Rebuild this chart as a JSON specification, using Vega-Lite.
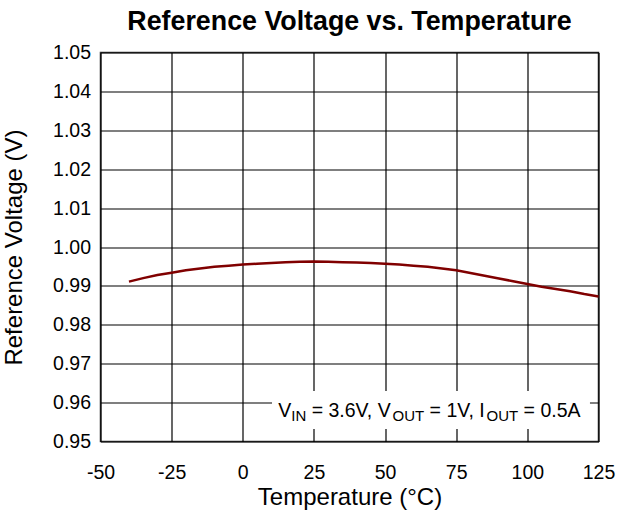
{
  "$schema": "https://vega.github.io/schema/vega-lite/v6.json",
  "width": 498,
  "height": 389,
  "autosize": "none",
  "padding": {"left": 100.5, "top": 52.5, "right": 27.5, "bottom": 77.5},
  "background": "white",
  "title": {
    "text": "Reference Voltage vs. Temperature",
    "font": "Liberation Sans",
    "fontSize": 26.8,
    "fontWeight": "bold",
    "color": "#000000",
    "anchor": "middle",
    "baseline": "alphabetic",
    "offset": 22,
    "dy": 36
  },
  "config": {
    "view": {"stroke": "#333333", "strokeWidth": 1.5},
    "axis": {
      "grid": true,
      "gridColor": "#000000",
      "gridWidth": 1.2,
      "gridOpacity": 1,
      "ticks": false,
      "tickSize": 0,
      "domain": false,
      "labelOverlap": false,
      "labelFont": "Liberation Sans",
      "labelFontSize": 19.5,
      "labelColor": "#000000",
      "titleFont": "Liberation Sans",
      "titleFontSize": 24,
      "titleFontWeight": "normal",
      "titleColor": "#000000"
    }
  },
  "layer": [
    {
      "data": {
        "values": [
          {"t": -40, "v": 0.9911}, {"t": -35, "v": 0.9920}, {"t": -30, "v": 0.9928},
          {"t": -25, "v": 0.9934}, {"t": -20, "v": 0.9940}, {"t": -15, "v": 0.9945},
          {"t": -10, "v": 0.9949}, {"t": -5, "v": 0.9952}, {"t": 0, "v": 0.9955},
          {"t": 5, "v": 0.9957}, {"t": 10, "v": 0.9959}, {"t": 15, "v": 0.9961},
          {"t": 20, "v": 0.9962}, {"t": 25, "v": 0.9963}, {"t": 30, "v": 0.9962},
          {"t": 35, "v": 0.9961}, {"t": 40, "v": 0.9960}, {"t": 45, "v": 0.9959},
          {"t": 50, "v": 0.9957}, {"t": 55, "v": 0.9955}, {"t": 60, "v": 0.9952},
          {"t": 65, "v": 0.9949}, {"t": 70, "v": 0.9945}, {"t": 75, "v": 0.9940},
          {"t": 80, "v": 0.9933}, {"t": 85, "v": 0.9926}, {"t": 90, "v": 0.9919},
          {"t": 95, "v": 0.9912}, {"t": 100, "v": 0.9905}, {"t": 105, "v": 0.9898},
          {"t": 110, "v": 0.9892}, {"t": 115, "v": 0.9886}, {"t": 120, "v": 0.9879},
          {"t": 125, "v": 0.9873}
        ]
      },
      "mark": {"type": "line", "color": "#800000", "strokeWidth": 2.5},
      "encoding": {
        "x": {
          "field": "t",
          "type": "quantitative",
          "scale": {"domain": [-50, 125], "nice": false, "zero": false},
          "axis": {
            "values": [-50, -25, 0, 25, 50, 75, 100, 125],
            "tickCount": 20,
            "labelExpr": "'' + datum.value",
            "title": "Temperature (°C)",
            "labelPadding": 22,
            "labelFlush": false,
            "titleX": 249,
            "titleY": 63,
            "titleBaseline": "alphabetic"
          }
        },
        "y": {
          "field": "v",
          "type": "quantitative",
          "scale": {"domain": [0.95, 1.05], "nice": false, "zero": false},
          "axis": {
            "values": [0.95, 0.96, 0.97, 0.98, 0.99, 1.0, 1.01, 1.02, 1.03, 1.04, 1.05],
            "tickCount": 20,
            "format": ".2f",
            "title": "Reference Voltage (V)",
            "labelPadding": 10,
            "labelFlush": false,
            "titleX": -86.5,
            "titleY": 194.5,
            "titleAngle": -90,
            "titleAlign": "center",
            "titleBaseline": "middle"
          }
        }
      }
    },
    {
      "data": {"values": [{}]},
      "mark": {"type": "rect", "fill": "white", "stroke": null},
      "encoding": {
        "x": {"datum": 10.27},
        "x2": {"datum": 122.0},
        "y": {"datum": 0.96298},
        "y2": {"datum": 0.95321}
      }
    },
    {
      "data": {"values": [{}]},
      "mark": {"type": "text", "align": "left", "baseline": "alphabetic", "font": "Liberation Sans", "fontSize": 19.5, "color": "#000000", "dx": 0},
      "encoding": {"x": {"datum": 12.48}, "y": {"datum": 0.95622}, "text": {"value": "V"}}
    },
    {
      "data": {"values": [{}]},
      "mark": {"type": "text", "align": "left", "baseline": "alphabetic", "font": "Liberation Sans", "fontSize": 15, "color": "#000000", "dx": 13.0, "dy": 3.5},
      "encoding": {"x": {"datum": 12.48}, "y": {"datum": 0.95622}, "text": {"value": "IN"}}
    },
    {
      "data": {"values": [{}]},
      "mark": {"type": "text", "align": "left", "baseline": "alphabetic", "font": "Liberation Sans", "fontSize": 19.5, "color": "#000000", "dx": 33.4},
      "encoding": {"x": {"datum": 12.48}, "y": {"datum": 0.95622}, "text": {"value": "= 3.6V, V"}}
    },
    {
      "data": {"values": [{}]},
      "mark": {"type": "text", "align": "left", "baseline": "alphabetic", "font": "Liberation Sans", "fontSize": 15, "color": "#000000", "dx": 114.2, "dy": 3.5},
      "encoding": {"x": {"datum": 12.48}, "y": {"datum": 0.95622}, "text": {"value": "OUT"}}
    },
    {
      "data": {"values": [{}]},
      "mark": {"type": "text", "align": "left", "baseline": "alphabetic", "font": "Liberation Sans", "fontSize": 19.5, "color": "#000000", "dx": 151.3},
      "encoding": {"x": {"datum": 12.48}, "y": {"datum": 0.95622}, "text": {"value": "= 1V, I"}}
    },
    {
      "data": {"values": [{}]},
      "mark": {"type": "text", "align": "left", "baseline": "alphabetic", "font": "Liberation Sans", "fontSize": 15, "color": "#000000", "dx": 208.2, "dy": 3.5},
      "encoding": {"x": {"datum": 12.48}, "y": {"datum": 0.95622}, "text": {"value": "OUT"}}
    },
    {
      "data": {"values": [{}]},
      "mark": {"type": "text", "align": "left", "baseline": "alphabetic", "font": "Liberation Sans", "fontSize": 19.5, "color": "#000000", "dx": 245.3},
      "encoding": {"x": {"datum": 12.48}, "y": {"datum": 0.95622}, "text": {"value": "= 0.5A"}}
    }
  ]
}
